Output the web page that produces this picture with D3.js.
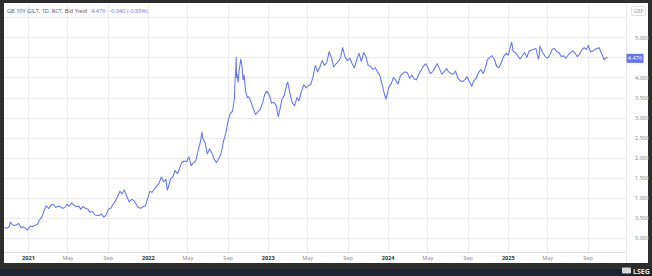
<!DOCTYPE html>
<html>
<head>
<meta charset="utf-8">
<script src="https://cdn.jsdelivr.net/npm/d3@7"></script>
<style>
  html, body { margin: 0; padding: 0; background: #2e2e2e; }
  svg { display: block; font-family: "Open Sans", "Noto Sans", sans-serif; }
</style>
</head>
<body>
<div id="chart"></div>
<script>
// GB 10Y gilt bid yield (roughly weekly)
var gilt10y = [
  ["2020-10-21",0.27],["2020-10-28",0.24],["2020-11-04",0.28],["2020-11-09",0.40],["2020-11-13",0.34],["2020-11-20",0.31],["2020-11-27",0.33],
  ["2020-12-04",0.36],["2020-12-11",0.26],["2020-12-18",0.28],["2020-12-24",0.24],["2020-12-31",0.20],
  ["2021-01-08",0.30],["2021-01-15",0.28],["2021-01-22",0.32],["2021-01-29",0.33],
  ["2021-02-05",0.45],["2021-02-12",0.52],["2021-02-19",0.68],["2021-02-25",0.80],
  ["2021-03-05",0.74],["2021-03-12",0.82],["2021-03-19",0.84],["2021-03-26",0.76],
  ["2021-04-02",0.79],["2021-04-09",0.78],["2021-04-16",0.74],["2021-04-23",0.76],["2021-04-30",0.84],
  ["2021-05-07",0.79],["2021-05-14",0.88],["2021-05-21",0.82],["2021-05-28",0.78],
  ["2021-06-04",0.80],["2021-06-11",0.72],["2021-06-18",0.79],["2021-06-25",0.74],
  ["2021-07-02",0.72],["2021-07-09",0.64],["2021-07-16",0.66],["2021-07-23",0.58],["2021-07-30",0.57],
  ["2021-08-06",0.56],["2021-08-13",0.60],["2021-08-20",0.52],["2021-08-27",0.58],
  ["2021-09-03",0.72],["2021-09-10",0.74],["2021-09-17",0.84],["2021-09-24",0.92],["2021-09-30",1.02],
  ["2021-10-08",1.16],["2021-10-15",1.10],["2021-10-21",1.20],["2021-10-29",1.04],
  ["2021-11-05",0.90],["2021-11-12",0.96],["2021-11-19",0.94],["2021-11-26",0.85],
  ["2021-12-03",0.76],["2021-12-10",0.74],["2021-12-17",0.78],["2021-12-24",0.80],["2021-12-31",0.97],
  ["2022-01-07",1.16],["2022-01-14",1.14],["2022-01-21",1.22],["2022-01-28",1.30],
  ["2022-02-04",1.36],["2022-02-11",1.52],["2022-02-18",1.40],["2022-02-25",1.46],
  ["2022-03-01",1.20],["2022-03-04",1.25],["2022-03-11",1.48],["2022-03-18",1.52],["2022-03-25",1.68],
  ["2022-04-01",1.60],["2022-04-08",1.74],["2022-04-14",1.88],["2022-04-22",1.92],["2022-04-29",1.90],
  ["2022-05-06",2.02],["2022-05-13",1.80],["2022-05-20",1.88],["2022-05-27",1.92],
  ["2022-06-03",2.18],["2022-06-10",2.40],["2022-06-15",2.64],["2022-06-17",2.48],["2022-06-24",2.38],
  ["2022-07-01",2.10],["2022-07-08",2.22],["2022-07-15",2.12],["2022-07-22",1.96],["2022-07-29",1.88],
  ["2022-08-05",1.98],["2022-08-12",2.10],["2022-08-19",2.40],["2022-08-26",2.60],
  ["2022-09-02",2.90],["2022-09-09",3.10],["2022-09-16",3.16],["2022-09-22",3.50],["2022-09-23",3.82],["2022-09-26",4.24],["2022-09-27",4.50],["2022-09-28",4.00],["2022-09-30",4.08],
  ["2022-10-03",3.88],["2022-10-06",4.18],["2022-10-11",4.46],["2022-10-14",4.32],["2022-10-18",3.94],["2022-10-21",4.06],["2022-10-26",3.64],["2022-10-31",3.50],
  ["2022-11-04",3.52],["2022-11-11",3.40],["2022-11-18",3.22],["2022-11-25",3.08],
  ["2022-12-02",3.14],["2022-12-09",3.20],["2022-12-16",3.36],["2022-12-23",3.58],["2022-12-29",3.66],
  ["2023-01-06",3.56],["2023-01-13",3.36],["2023-01-20",3.38],["2023-01-27",3.30],
  ["2023-02-02",3.02],["2023-02-07",3.20],["2023-02-14",3.48],["2023-02-21",3.56],["2023-02-28",3.84],
  ["2023-03-03",3.88],["2023-03-10",3.60],["2023-03-17",3.36],["2023-03-24",3.30],["2023-03-31",3.50],
  ["2023-04-06",3.42],["2023-04-14",3.66],["2023-04-21",3.82],["2023-04-28",3.74],
  ["2023-05-05",3.80],["2023-05-12",3.82],["2023-05-19",4.02],["2023-05-26",4.30],
  ["2023-06-02",4.14],["2023-06-09",4.26],["2023-06-16",4.42],["2023-06-23",4.30],["2023-06-30",4.38],
  ["2023-07-07",4.64],["2023-07-14",4.50],["2023-07-21",4.26],["2023-07-28",4.34],
  ["2023-08-04",4.40],["2023-08-11",4.50],["2023-08-17",4.74],["2023-08-25",4.50],
  ["2023-09-01",4.42],["2023-09-08",4.48],["2023-09-15",4.34],["2023-09-22",4.24],["2023-09-29",4.44],
  ["2023-10-06",4.60],["2023-10-13",4.40],["2023-10-20",4.62],["2023-10-27",4.52],
  ["2023-11-03",4.30],["2023-11-10",4.28],["2023-11-17",4.20],["2023-11-24",4.24],
  ["2023-12-01",4.14],["2023-12-08",4.06],["2023-12-15",3.84],["2023-12-22",3.60],["2023-12-27",3.46],
  ["2024-01-05",3.76],["2024-01-12",3.84],["2024-01-19",4.00],["2024-01-26",3.92],
  ["2024-02-02",3.84],["2024-02-09",4.04],["2024-02-16",4.10],["2024-02-23",4.14],
  ["2024-03-01",4.12],["2024-03-08",3.98],["2024-03-15",4.06],["2024-03-22",3.96],["2024-03-29",3.94],
  ["2024-04-05",4.08],["2024-04-12",4.18],["2024-04-19",4.28],["2024-04-26",4.34],
  ["2024-05-03",4.24],["2024-05-10",4.10],["2024-05-17",4.14],["2024-05-24",4.24],["2024-05-31",4.34],
  ["2024-06-07",4.22],["2024-06-14",4.08],["2024-06-21",4.14],["2024-06-28",4.22],
  ["2024-07-05",4.14],["2024-07-12",4.10],["2024-07-19",4.08],["2024-07-26",4.16],
  ["2024-08-02",3.98],["2024-08-09",3.92],["2024-08-16",3.90],["2024-08-23",3.94],["2024-08-30",4.02],
  ["2024-09-06",3.90],["2024-09-13",3.78],["2024-09-20",3.92],["2024-09-27",3.98],
  ["2024-10-04",4.12],["2024-10-11",4.20],["2024-10-18",4.10],["2024-10-25",4.24],["2024-10-31",4.44],
  ["2024-11-07",4.50],["2024-11-14",4.54],["2024-11-21",4.46],["2024-11-28",4.28],
  ["2024-12-05",4.24],["2024-12-12",4.36],["2024-12-19",4.52],["2024-12-27",4.60],
  ["2025-01-03",4.56],["2025-01-08",4.74],["2025-01-13",4.88],["2025-01-17",4.66],["2025-01-24",4.62],["2025-01-31",4.54],
  ["2025-02-07",4.46],["2025-02-14",4.54],["2025-02-21",4.62],["2025-02-28",4.50],
  ["2025-03-07",4.66],["2025-03-14",4.68],["2025-03-21",4.70],["2025-03-28",4.72],
  ["2025-04-04",4.46],["2025-04-07",4.56],["2025-04-09",4.78],["2025-04-17",4.62],["2025-04-25",4.52],
  ["2025-05-02",4.48],["2025-05-09",4.56],["2025-05-16",4.70],["2025-05-23",4.72],["2025-05-30",4.64],
  ["2025-06-06",4.62],["2025-06-13",4.52],["2025-06-20",4.54],["2025-06-27",4.48],
  ["2025-07-04",4.56],["2025-07-11",4.62],["2025-07-18",4.66],["2025-07-25",4.60],
  ["2025-08-01",4.52],["2025-08-08",4.58],["2025-08-15",4.70],["2025-08-22",4.74],["2025-08-29",4.70],
  ["2025-09-03",4.80],["2025-09-10",4.64],["2025-09-17",4.66],["2025-09-24",4.70],["2025-09-30",4.72],
  ["2025-10-07",4.74],["2025-10-10",4.66],["2025-10-16",4.56],["2025-10-21",4.44],["2025-10-28",4.50],["2025-10-31",4.476]
];

var xTicks = ["2021-01-01","2021-05-01","2021-09-01","2022-01-01","2022-05-01","2022-09-01",
              "2023-01-01","2023-05-01","2023-09-01","2024-01-01","2024-05-01","2024-09-01",
              "2025-01-01","2025-05-01","2025-09-01"];
var xTickLabels = ["2021","May","Sep","2022","May","Sep","2023","May","Sep","2024","May","Sep","2025","May","Sep"];
// 4.500 is covered by the last-value tag in the original, so it has no label
var yTicks = [0, 0.5, 1, 1.5, 2, 2.5, 3, 3.5, 4, 5];
var yGrid = [0, 0.5, 1, 1.5, 2, 2.5, 3, 3.5, 4, 4.5, 5, 5.5];

var title = "GB 10Y GILT, 1D, RCT, Bid Yield";
var lastValue = "4.476";
var lastChange = "-0.040 (-0.89%)";
var currency = "GBP";

function getConfig(){
    let width = 652, height = 276;
    let panel = {x: 4, y: 3, w: 644, h: 260};
    let plot = {left: 4, right: 626, top: 4, bottom: 252};
    let lineColor = "#6273f4";
    return {width, height, panel, plot, lineColor};
}

function draw(){
    let config = getConfig();
    let p = config.plot;
    let parseDate = d3.timeParse("%Y-%m-%d");
    let data = gilt10y.map(d => ({date: parseDate(d[0]), value: d[1]}));

    let svg = d3.select("#chart").append("svg")
                .attr("width", config.width)
                .attr("height", config.height);

    // frame: dark border, white panel, bottom strip
    svg.append("rect").attr("width", config.width).attr("height", config.height).attr("fill", "#2e2e2e");
    svg.append("rect").attr("x", 0).attr("y", 269).attr("width", config.width).attr("height", 7).attr("fill", "#1d2431");
    svg.append("rect")
       .attr("x", config.panel.x).attr("y", config.panel.y)
       .attr("width", config.panel.w).attr("height", config.panel.h)
       .attr("fill", "#ffffff");

    let xScale = d3.scaleTime()
                   .domain([parseDate("2020-10-20"), parseDate("2025-12-27")])
                   .range([p.left, p.right]);
    let yScale = d3.scaleLinear()
                   .domain([-0.348, 5.83])
                   .range([p.bottom, p.top]);

    // grid
    svg.append("g")
       .selectAll("line")
       .data(yGrid)
       .join("line")
       .attr("x1", p.left).attr("x2", p.right)
       .attr("y1", d => Math.round(yScale(d)) + 0.5).attr("y2", d => Math.round(yScale(d)) + 0.5)
       .attr("stroke", "#ececec").attr("stroke-width", 1);

    svg.append("g")
       .selectAll("line")
       .data(xTicks)
       .join("line")
       .attr("x1", d => Math.round(xScale(parseDate(d))) + 0.5)
       .attr("x2", d => Math.round(xScale(parseDate(d))) + 0.5)
       .attr("y1", p.top).attr("y2", p.bottom)
       .attr("stroke", "#ececec").attr("stroke-width", 1);

    // axis separators
    svg.append("line").attr("x1", p.left).attr("x2", p.right)
       .attr("y1", p.bottom + 0.5).attr("y2", p.bottom + 0.5)
       .attr("stroke", "#e2e2e2");
    svg.append("line").attr("x1", p.right + 0.5).attr("x2", p.right + 0.5)
       .attr("y1", config.panel.y).attr("y2", config.panel.y + config.panel.h)
       .attr("stroke", "#e6e6e6");

    // x axis
    let xAx = svg.append("g")
                 .attr("transform", `translate(0, ${p.bottom})`)
                 .call(d3.axisBottom(xScale)
                         .tickValues(xTicks.map(parseDate))
                         .tickSize(0)
                         .tickPadding(4)
                         .tickFormat((d, i) => xTickLabels[i]));
    xAx.select(".domain").remove();
    xAx.selectAll(".tick text")
       .attr("font-size", 5.6)
       .attr("font-family", "Open Sans, sans-serif")
       .attr("fill", (d, i) => /^\d/.test(xTickLabels[i]) ? "#333" : "#888")
       .attr("font-weight", (d, i) => /^\d/.test(xTickLabels[i]) ? "bold" : "normal");

    // y axis (right side)
    let yAx = svg.append("g")
                 .attr("transform", `translate(${p.right}, 0)`)
                 .call(d3.axisRight(yScale)
                         .tickValues(yTicks)
                         .tickSize(0)
                         .tickPadding(9)
                         .tickFormat(d3.format(".3f")));
    yAx.select(".domain").remove();
    yAx.selectAll(".tick text")
       .attr("font-size", 5.6)
       .attr("font-family", "Open Sans, sans-serif")
       .attr("fill", "#888");

    // series line
    let line = d3.line()
                 .x(d => xScale(d.date))
                 .y(d => yScale(d.value));
    svg.append("path")
       .datum(data)
       .attr("d", line)
       .attr("fill", "none")
       .attr("stroke", config.lineColor)
       .attr("stroke-width", 1.05)
       .attr("stroke-linejoin", "round");

    // last value tag
    let last = data[data.length - 1];
    let tagY = yScale(last.value);
    svg.append("rect")
       .attr("x", p.right + 0.5).attr("y", tagY - 4.5)
       .attr("width", 17).attr("height", 9)
       .attr("fill", config.lineColor);
    svg.append("text")
       .attr("x", p.right + 9).attr("y", tagY + 2)
       .attr("text-anchor", "middle")
       .attr("font-size", 5.6)
       .attr("fill", "#fff")
       .text(lastValue);

    // currency box
    svg.append("rect")
       .attr("x", 631.5).attr("y", 6.5).attr("width", 14).attr("height", 9)
       .attr("fill", "#fff").attr("stroke", "#e0e0e0").attr("rx", 1);
    svg.append("text")
       .attr("x", 638.5).attr("y", 13)
       .attr("text-anchor", "middle")
       .attr("font-size", 5)
       .attr("fill", "#999")
       .text(currency);

    // header
    let head = svg.append("text")
                  .attr("x", 7).attr("y", 13)
                  .attr("font-size", 5.6)
                  .attr("fill", "#555");
    head.append("tspan").text(title);
    head.append("tspan").attr("dx", 4).attr("fill", config.lineColor).text(lastValue);
    head.append("tspan").attr("dx", 4).attr("fill", config.lineColor).text(lastChange);

    // logo bottom right
    let logo = svg.append("g").attr("transform", "translate(622, 267)");
    logo.append("rect").attr("x", 0).attr("y", 0.5).attr("width", 9).attr("height", 6).attr("fill", "#d8d8d8").attr("rx", 1);
    logo.append("text")
        .attr("x", 11).attr("y", 6.5)
        .attr("font-size", 7)
        .attr("font-weight", "bold")
        .attr("fill", "#e8e8e8")
        .text("LSEG");
}

window.addEventListener("load", draw);
</script>
</body>
</html>
